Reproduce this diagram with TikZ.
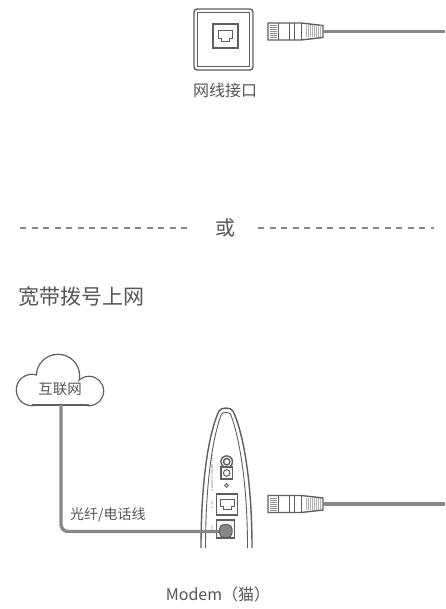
\documentclass[tikz,border=0pt]{standalone}
\usepackage{fontspec}
\newfontfamily\cjk{Noto Sans CJK SC}
\definecolor{ink}{HTML}{5E5E5E}
\definecolor{txt}{HTML}{555555}
\definecolor{wire}{HTML}{888888}
\tikzset{
  outline/.style={draw=ink,line width=1.4pt},
  thin/.style={draw=ink,line width=0.6pt},
  cable/.style={draw=wire,line width=3.4pt},
  label/.style={text=txt,inner sep=0pt,font=\cjk\fontsize{#1}{#1}\selectfont},
  tiny/.style={text=ink,inner sep=0pt,rotate=90,font=\fontsize{2.6}{2.6}\selectfont},
  sep/.style={draw=wire,line width=1.4pt,dash pattern=on 6pt off 5.5pt},
}
% RJ45 plug, origin at the left middle of the body
\newcommand\ethplug[1]{%
  \begin{scope}[shift={#1}]
    \draw[outline,fill=white] (0,-8.5) -- (33,-8.5) -- (55,-6) -- (55,6) -- (33,8.5) -- (0,8.5) -- cycle;
    \foreach \yy in {-6,-4,...,6} \draw[thin,draw=ink!70,line width=0.45pt] (1.5,\yy) -- (9,\yy);
    \draw[thin] (10,-8.5) -- (10,8.5);
    \draw[thin,line width=1pt] (21,-8.5) -- (21,8.5);
    \draw[thin,line width=1pt] (26,-8.5) -- (26,8.5);
    \draw[thin,line width=1pt] (33,-8.5) -- (33,8.5);
    \foreach \xx in {38,40,...,52} \draw[draw=ink!50,line width=0.45pt] (\xx,-6) -- (\xx,6);
  \end{scope}}
% RJ45 socket outline centred on the given point
\newcommand\ethsocket[1]{%
  \draw[thin,line width=0.9pt,shift={#1}] (-7,-5.5) -- (7,-5.5) -- (7,2) -- (4,2) -- (4,5) -- (-4,5) -- (-4,2) -- (-7,2) -- cycle;}
\begin{document}
\begin{tikzpicture}[x=1pt,y=-1pt]
\useasboundingbox (0,0) rectangle (445,609);

% ---- wall socket with network cable ----
\draw[outline,rounded corners=3pt] (194,9) rectangle (253,70);
\draw[outline,line width=0.9pt] (197.5,12.5) rectangle (249.5,66.5);
\draw[outline,line width=1.1pt] (213,24) rectangle (238,48);
\ethsocket{(225.5,36)}
\node[label=16] (wall) at (225,90) {网线接口};
\ethplug{(268,31.5)}
\coordinate (plugA) at (323,31.5);
\coordinate (edgeA) at (445,31.5);
\draw[cable] (plugA) -- (edgeA);

% ---- separator ----
\node[label=20] (or) at (225,228) {或};
\coordinate (sepL1) at (20,228);  \coordinate (sepL2) at (192,228);
\coordinate (sepR1) at (258,228); \coordinate (sepR2) at (434,228);
\draw[sep] (sepL1) -- (sepL2);
\draw[sep] (sepR1) -- (sepR2);

% ---- heading ----
\node[label=21,anchor=west] (title) at (18,297) {宽带拨号上网};

% ---- cloud: stroke the lobes, then blank out their insides ----
\draw[draw=ink,line width=2.6pt] (32,390) circle (15) (58,376) circle (21) (89,391) circle (14);
\fill[white] (32,390) circle (15);
\fill[white] (58,376) circle (21);
\fill[white] (89,391) circle (14);
\fill[white] (32,383) rectangle (89,405);
\draw[draw=ink,line width=1.3pt] (32,405) -- (89,405);
\node[label=14.5] (net) at (60,389) {互联网};

% ---- modem body ----
\draw[outline] (201,548) .. controls (201,480) and (209,432) .. (219,411)
   .. controls (221,407) and (231,407) .. (233,411)
   .. controls (243,432) and (252,480) .. (252,548);
\draw[thin,line width=0.9pt] (205.5,548) .. controls (205.5,482) and (213,436) .. (221.5,414)
   .. controls (223,412) and (229,412) .. (230.5,414)
   .. controls (239,436) and (247.5,482) .. (247.5,548);
% power switch
\draw[outline] (226.7,461.7) circle (5.8);
\draw[outline] (226.7,461.7) circle (3.2);
% power jack
\draw[outline] (221,467) rectangle (232.5,479);
\draw[outline,line width=1pt] (226.7,473) circle (3.3);
% reset
\draw[thin,line width=0.9pt] (226.7,485.5) circle (1.9);
% LAN port
\draw[outline] (216.7,494) rectangle (237.7,515);
\ethsocket{(227.2,504.5)}
% line port
\draw[outline] (216.7,520) rectangle (234.3,538);
% port labels
\node[tiny] (l1) at (212.3,461.7) {ON/OFF};
\node[tiny] (l2) at (212.3,473) {POWER};
\node[tiny] (l3) at (212.3,485.5) {RESET};
\node[tiny] (l4) at (212.3,504.5) {LAN};
\node[tiny] (l5) at (212.3,529) {DSL};

% fibre / phone line from the cloud into the modem
\coordinate (netout) at (61,405);
\coordinate (dslin) at (224,531.5);
\draw[cable,rounded corners=7pt] (netout) |- (dslin);
\draw[draw=ink,line width=1pt,fill=wire,rounded corners=4.5pt] (219.5,524.5) rectangle (232,537.5);
\node[label=14,anchor=south west] (linelbl) at (70,522) {光纤/电话线};

% network cable out of the modem
\ethplug{(268,504)}
\coordinate (plugB) at (323,504);
\coordinate (edgeB) at (445,504);
\draw[cable] (plugB) -- (edgeB);

\node[label=16] (modem) at (218,594) {Modem（猫）};
\end{tikzpicture}
\end{document}
